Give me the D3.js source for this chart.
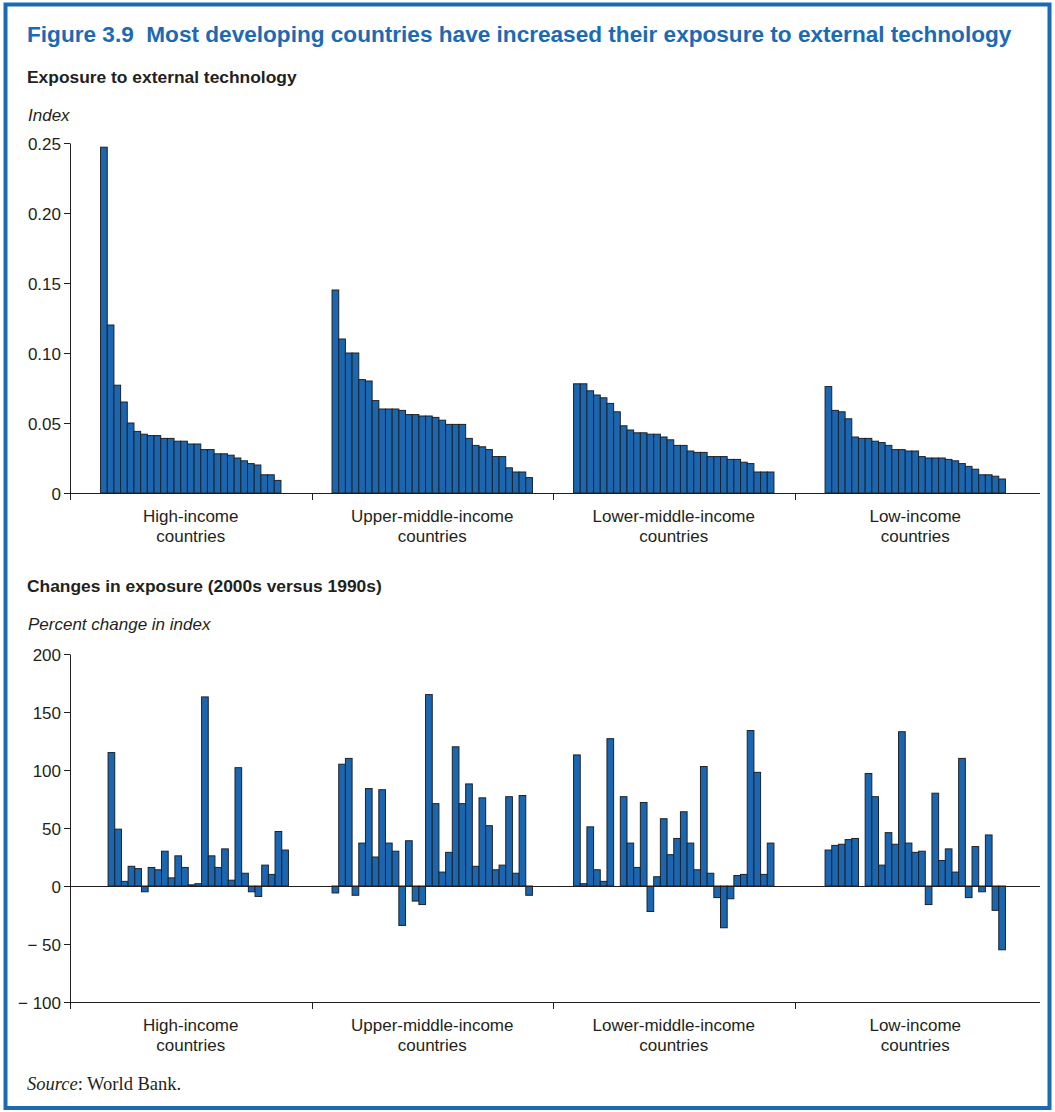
<!DOCTYPE html>
<html>
<head>
<meta charset="utf-8">
<script src="https://cdn.jsdelivr.net/npm/d3@7"></script>
<style>
  body { margin: 0; background: #fff; }
  svg { display: block; }
  text { font-family: "Liberation Sans", Arial, sans-serif; fill: #231f20; }
  .title { font-weight: bold; font-size: 22.6px; fill: #1c6ab3; }
  .subtitle { font-weight: bold; font-size: 17.4px; }
  .unit { font-style: italic; font-size: 17px; }
  .tick text { font-size: 17px; }
  .group-label { font-size: 17px; }
  .source { font-family: "Liberation Serif", "Times New Roman", serif; font-size: 18.5px; }
</style>
</head>
<body>
<script>
/*
 * Data.
 */

const groupNames = ['High-income', 'Upper-middle-income', 'Lower-middle-income', 'Low-income'];
const groupSecondLine = 'countries';

// exposure index, each group sorted from highest to lowest
const exposureHigh = [0.247, 0.120, 0.077, 0.065, 0.050, 0.044, 0.042, 0.041, 0.041, 0.039, 0.039,
  0.037, 0.037, 0.035, 0.035, 0.031, 0.031, 0.028, 0.028, 0.027, 0.025, 0.023, 0.021, 0.020,
  0.013, 0.013, 0.009];
const exposureUpperMiddle = [0.145, 0.110, 0.100, 0.100, 0.081, 0.080, 0.066, 0.060, 0.060, 0.060,
  0.059, 0.056, 0.056, 0.055, 0.055, 0.054, 0.052, 0.049, 0.049, 0.049, 0.039, 0.034, 0.033,
  0.031, 0.026, 0.026, 0.018, 0.015, 0.015, 0.011];
const exposureLowerMiddle = [0.078, 0.078, 0.073, 0.070, 0.068, 0.064, 0.058, 0.048, 0.045, 0.043,
  0.043, 0.042, 0.042, 0.040, 0.038, 0.034, 0.034, 0.030, 0.029, 0.029, 0.026, 0.026, 0.026,
  0.024, 0.024, 0.022, 0.021, 0.015, 0.015, 0.015];
const exposureLow = [0.076, 0.059, 0.058, 0.053, 0.040, 0.039, 0.039, 0.037, 0.036, 0.034, 0.031,
  0.031, 0.030, 0.030, 0.026, 0.025, 0.025, 0.025, 0.024, 0.023, 0.021, 0.019, 0.017, 0.013,
  0.013, 0.012, 0.010];

// percent change in index, same countries, null = no bar
const changeHigh = [115, 49, 4, 17, 15, -5, 16, 14, 30, 7, 26, 16, 1, 2, 163, 26, 16, 32, 5, 102,
  11, -5, -9, 18, 10, 47, 31];
const changeUpperMiddle = [-6, 105, 110, -8, 37, 84, 25, 83, 37, 30, -34, 39, -13, -16, 165, 71,
  12, 29, 120, 71, 88, 17, 76, 52, 14, 18, 77, 11, 78, -8];
const changeLowerMiddle = [113, 2, 51, 14, 4, 127, null, 77, 37, 16, 72, -22, 8, 58, 27, 41, 64,
  37, 14, 103, 11, -10, -36, -11, 9, 10, 134, 98, 10, 37];
const changeLow = [31, 35, 36, 40, 41, null, 97, 77, 18, 46, 36, 133, 37, 29, 30, -16, 80, 22, 32,
  12, 110, -10, 34, -5, 44, -21, -55];

const exposureTicks = [0, 0.05, 0.10, 0.15, 0.20, 0.25];
const exposureTickLabels = ['0', '0.05', '0.10', '0.15', '0.20', '0.25'];
const changeTicks = [-100, -50, 0, 50, 100, 150, 200];
const changeTickLabels = ['\u2212 100', '\u2212 50', '0', '50', '100', '150', '200'];

/*
 * Layout.
 */

const CANVAS_WIDTH = 1055;
const CANVAS_HEIGHT = 1112;
const AXIS_LEFT = 70;
const AXIS_RIGHT = 1040;
const GROUPS_RIGHT = 1036;
const BAR_STEP = 6.68;
const BLUE = '#1c6ab3';
const BAR_FILL = '#1b66b0';
const INK = '#231f20';

const svg = d3.select('body')
  .append('svg')
    .attr('width', CANVAS_WIDTH)
    .attr('height', CANVAS_HEIGHT);

// blue frame round the figure
svg.append('rect')
    .attr('x', 5.5)
    .attr('y', 4.5)
    .attr('width', 1044)
    .attr('height', 1103.5)
    .attr('fill', 'none')
    .attr('stroke', BLUE)
    .attr('stroke-width', 4);

svg.append('text')
    .attr('class', 'title')
    .attr('x', 27)
    .attr('y', 42)
    .attr('xml:space', 'preserve')
    .text('Figure 3.9  Most developing countries have increased their exposure to external technology');

// shared group scale
const xGroup = d3.scaleBand()
    .domain(groupNames)
    .range([AXIS_LEFT, GROUPS_RIGHT]);

/*
 * Draws one bar panel.
 */

const plotPanel = ({series, y, ticks, tickLabels, subtitle, subtitleY, unit, unitY, zeroLine, shift}) => {
  const g = svg.append('g');
  const axisY = y(y.domain()[0]);

  g.append('text')
      .attr('class', 'subtitle')
      .attr('x', 27)
      .attr('y', subtitleY)
      .text(subtitle);

  g.append('text')
      .attr('class', 'unit')
      .attr('x', 28)
      .attr('y', unitY)
      .text(unit);

  // bars, each group centred in its band
  series.forEach((values, gi) => {
    const name = groupNames[gi];
    const centre = xGroup(name) + xGroup.bandwidth() / 2 + shift[gi];
    const half = values.length * BAR_STEP / 2;
    const xBar = d3.scaleBand()
        .domain(d3.range(values.length))
        .range([centre - half, centre + half]);

    g.append('g')
      .selectAll('rect')
      .data(values.map((v, i) => ({v, i})).filter(d => d.v !== null))
      .enter()
      .append('rect')
        .attr('x', d => xBar(d.i))
        .attr('width', xBar.bandwidth())
        .attr('y', d => y(Math.max(0, d.v)))
        .attr('height', d => Math.abs(y(d.v) - y(0)))
        .attr('fill', BAR_FILL)
        .attr('stroke', '#1e2227')
        .attr('stroke-width', 1);
  });

  // zero line across the plot
  if (zeroLine) {
    g.append('line')
        .attr('x1', AXIS_LEFT)
        .attr('x2', AXIS_RIGHT)
        .attr('y1', Math.round(y(0)) + 0.5)
        .attr('y2', Math.round(y(0)) + 0.5)
        .attr('stroke', INK);
  }

  // x axis with group separators
  g.append('line')
      .attr('x1', AXIS_LEFT)
      .attr('x2', AXIS_RIGHT)
      .attr('y1', Math.round(axisY) + 0.5)
      .attr('y2', Math.round(axisY) + 0.5)
      .attr('stroke', INK);

  g.append('g')
    .selectAll('line')
    .data(groupNames.slice(1))
    .enter()
    .append('line')
      .attr('x1', d => Math.round(xGroup(d)) + 0.5)
      .attr('x2', d => Math.round(xGroup(d)) + 0.5)
      .attr('y1', Math.round(axisY))
      .attr('y2', Math.round(axisY) + 7)
      .attr('stroke', INK);

  // y axis
  const yAxis = g.append('g')
      .attr('transform', `translate(${AXIS_LEFT}, 0)`)
      .style('color', INK)
      .call(d3.axisLeft(y)
        .tickValues(ticks)
        .tickFormat((d, i) => tickLabels[i])
        .tickSize(6)
        .tickSizeOuter(0)
        .tickPadding(3));
  yAxis.selectAll('.tick text').attr('dy', '0.36em');

  g.append('line')
      .attr('x1', AXIS_LEFT + 0.5)
      .attr('x2', AXIS_LEFT + 0.5)
      .attr('y1', Math.round(axisY))
      .attr('y2', Math.round(axisY) + 7)
      .attr('stroke', INK);

  // group labels
  const labels = g.append('g')
    .selectAll('text')
    .data(groupNames)
    .enter()
    .append('text')
      .attr('class', 'group-label')
      .attr('text-anchor', 'middle');

  labels.append('tspan')
      .attr('x', d => xGroup(d) + xGroup.bandwidth() / 2)
      .attr('y', axisY + 29)
      .text(d => d);

  labels.append('tspan')
      .attr('x', d => xGroup(d) + xGroup.bandwidth() / 2)
      .attr('y', axisY + 49)
      .text(groupSecondLine);
};

plotPanel({
  series: [exposureHigh, exposureUpperMiddle, exposureLowerMiddle, exposureLow],
  y: d3.scaleLinear().domain([0, 0.25]).range([493, 143]),
  ticks: exposureTicks,
  tickLabels: exposureTickLabels,
  subtitle: 'Exposure to external technology',
  subtitleY: 83,
  unit: 'Index',
  unitY: 121,
  zeroLine: false,
  shift: [0, 0, 0, 0]
});

plotPanel({
  series: [changeHigh, changeUpperMiddle, changeLowerMiddle, changeLow],
  y: d3.scaleLinear().domain([-100, 200]).range([1002, 654]),
  ticks: changeTicks,
  tickLabels: changeTickLabels,
  subtitle: 'Changes in exposure (2000s versus 1990s)',
  subtitleY: 592,
  unit: 'Percent change in index',
  unitY: 630,
  zeroLine: true,
  shift: [7.5, 0, 0, 0]
});

// source note
const source = svg.append('text')
    .attr('class', 'source')
    .attr('x', 27)
    .attr('y', 1090);
source.append('tspan').style('font-style', 'italic').text('Source');
source.append('tspan').text(': World Bank.');
</script>
</body>
</html>
